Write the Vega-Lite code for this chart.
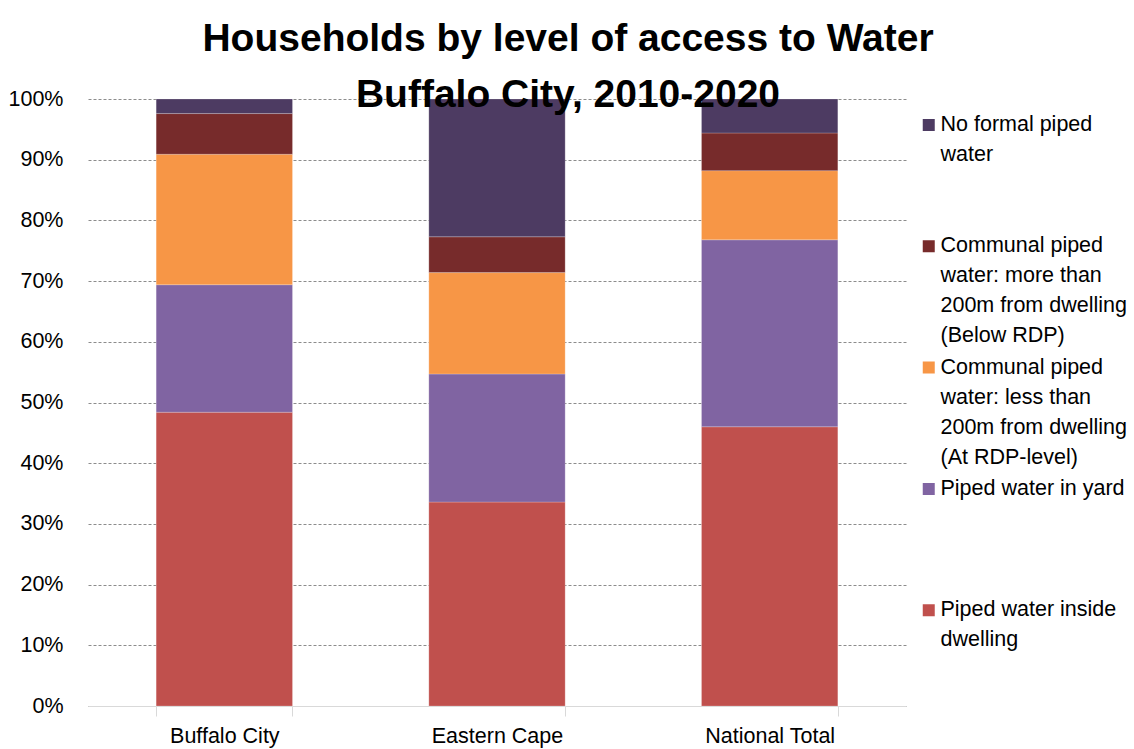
{
  "$schema": "https://vega.github.io/schema/vega-lite/v6.json",
  "width": 818,
  "height": 607,
  "autosize": {"type": "none"},
  "padding": {"left": 88, "top": 99, "right": 228, "bottom": 43},
  "background": "white",
  "title": {
    "text": ["Households by level of access to Water", "Buffalo City, 2010-2020"],
    "font": "Liberation Sans",
    "fontSize": 39,
    "fontWeight": "bold",
    "lineHeight": 56,
    "color": "#000000",
    "anchor": "middle",
    "frame": "group",
    "baseline": "bottom",
    "dx": 71,
    "dy": 56,
    "offset": -10
  },
  "data": {
    "values": [
      {"region": "Buffalo City", "category": "Piped water inside dwelling", "value": 48.4},
      {"region": "Buffalo City", "category": "Piped water in yard", "value": 21.0},
      {"region": "Buffalo City", "category": "Communal piped water: less than 200m from dwelling (At RDP-level)", "value": 21.5},
      {"region": "Buffalo City", "category": "Communal piped water: more than 200m from dwelling (Below RDP)", "value": 6.7},
      {"region": "Buffalo City", "category": "No formal piped water", "value": 2.4},
      {"region": "Eastern Cape", "category": "Piped water inside dwelling", "value": 33.6},
      {"region": "Eastern Cape", "category": "Piped water in yard", "value": 21.1},
      {"region": "Eastern Cape", "category": "Communal piped water: less than 200m from dwelling (At RDP-level)", "value": 16.7},
      {"region": "Eastern Cape", "category": "Communal piped water: more than 200m from dwelling (Below RDP)", "value": 5.9},
      {"region": "Eastern Cape", "category": "No formal piped water", "value": 22.7},
      {"region": "National Total", "category": "Piped water inside dwelling", "value": 46.0},
      {"region": "National Total", "category": "Piped water in yard", "value": 30.8},
      {"region": "National Total", "category": "Communal piped water: less than 200m from dwelling (At RDP-level)", "value": 11.4},
      {"region": "National Total", "category": "Communal piped water: more than 200m from dwelling (Below RDP)", "value": 6.2},
      {"region": "National Total", "category": "No formal piped water", "value": 5.6}
    ]
  },
  "transform": [
    {"calculate": "indexof(['Piped water inside dwelling', 'Piped water in yard', 'Communal piped water: less than 200m from dwelling (At RDP-level)', 'Communal piped water: more than 200m from dwelling (Below RDP)', 'No formal piped water'], datum.category)", "as": "stackOrder"}
  ],
  "mark": {"type": "bar", "stroke": "#ffffff", "strokeWidth": 0.6, "strokeOpacity": 0.35},
  "encoding": {
    "x": {
      "field": "region",
      "type": "nominal",
      "scale": {"paddingInner": 0.5, "paddingOuter": 0.25},
      "axis": {
        "title": null,
        "labelAngle": 0,
        "labelFont": "Liberation Sans",
        "labelFontSize": 21.5,
        "labelColor": "#000000",
        "labelPadding": 9,
        "domainColor": "#d9d9d9",
        "tickColor": "#d9d9d9",
        "tickSize": 10,
        "tickBand": "extent",
        "grid": false
      }
    },
    "y": {
      "field": "value",
      "type": "quantitative",
      "stack": "normalize",
      "scale": {"domain": [0, 1]},
      "axis": {
        "title": null,
        "values": [0, 0.1, 0.2, 0.3, 0.4, 0.5, 0.6, 0.7, 0.8, 0.9, 1],
        "format": ".0%",
        "labelFont": "Liberation Sans",
        "labelFontSize": 21.5,
        "labelColor": "#000000",
        "labelPadding": 25,
        "domain": false,
        "ticks": false,
        "grid": true,
        "gridColor": "#8c8c8c",
        "gridDash": [3, 2],
        "gridWidth": 1
      }
    },
    "color": {
      "field": "category",
      "type": "nominal",
      "scale": {
        "domain": ["No formal piped water", "Communal piped water: more than 200m from dwelling (Below RDP)", "Communal piped water: less than 200m from dwelling (At RDP-level)", "Piped water in yard", "Piped water inside dwelling"],
        "range": ["#4d3b62", "#772b2b", "#f79646", "#8064a2", "#c0504d"]
      },
      "legend": {
        "title": null,
        "orient": "none",
        "legendX": 830,
        "legendY": 8,
        "symbolType": "square",
        "symbolSize": 144,
        "symbolStrokeWidth": 0,
        "labelFont": "Liberation Sans",
        "labelFontSize": 21.5,
        "labelColor": "#000000",
        "labelOffset": 1,
        "labelLimit": 300,
        "clipHeight": 36,
        "rowPadding": 2.3,
        "labelExpr": "datum.label == 'No formal piped water' ? ['No formal piped', 'water', '', ''] : datum.label == 'Communal piped water: more than 200m from dwelling (Below RDP)' ? ['Communal piped', 'water: more than', '200m from dwelling', '(Below RDP)'] : datum.label == 'Communal piped water: less than 200m from dwelling (At RDP-level)' ? ['Communal piped', 'water: less than', '200m from dwelling', '(At RDP-level)'] : datum.label == 'Piped water inside dwelling' ? ['Piped water inside', 'dwelling', '', ''] : [datum.label, '', '', '']"
      }
    },
    "order": {"field": "stackOrder", "type": "quantitative", "sort": "ascending"}
  },
  "config": {
    "view": {"stroke": null},
    "style": {"guide-label": {"lineHeight": 30}}
  }
}
